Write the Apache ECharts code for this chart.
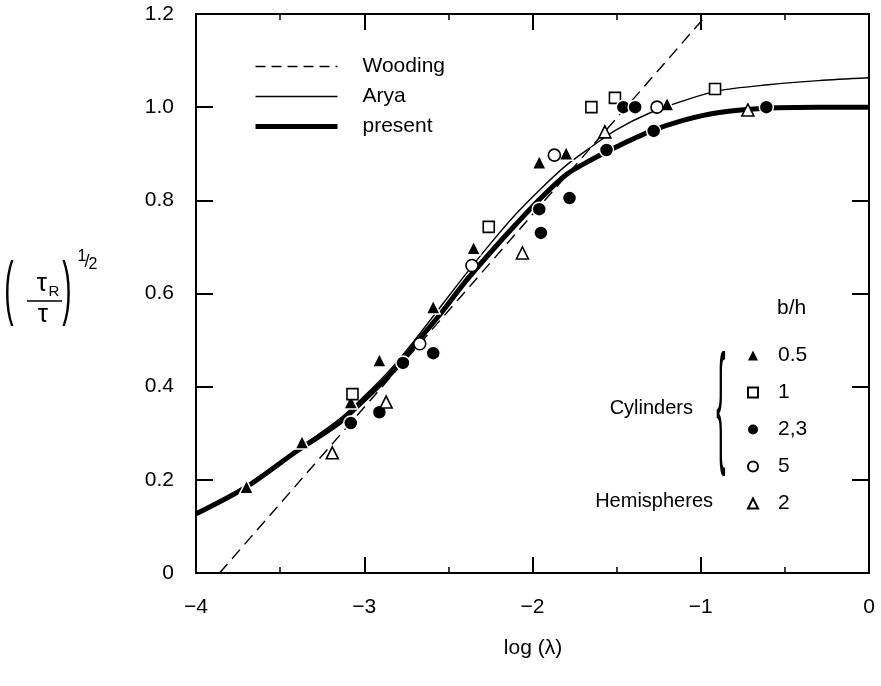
<!DOCTYPE html>
<html><head><meta charset="utf-8">
<script src="https://cdn.jsdelivr.net/npm/echarts@6/dist/echarts.min.js"></script>
<style>html,body{margin:0;padding:0;background:#fff}#c{width:881px;height:686px}</style>
</head><body><div id="c"></div>
<script>
// ---- data ----
const xTickLabels = ['\u22124', '\u22123', '\u22122', '\u22121', '0'];
const yTickLabels = ['0', '0.2', '0.4', '0.6', '0.8', '1.0', '1.2'];

const woodingX = [-3.86, -0.96];
const woodingY = [0, 1.2];

const aryaX = [-4, -3.7, -3.4, -3.15, -3.0, -2.85, -2.7, -2.55, -2.4, -2.25, -2.1, -1.95, -1.8, -1.65, -1.5, -1.3, -1.1, -0.9, -0.6, -0.3, 0];
const aryaY = [0.127, 0.185, 0.265, 0.33, 0.38, 0.435, 0.5, 0.57, 0.64, 0.707, 0.77, 0.825, 0.875, 0.915, 0.952, 0.988, 1.014, 1.035, 1.048, 1.057, 1.063];

const presentX = [-4, -3.7, -3.4, -3.15, -3.0, -2.85, -2.7, -2.55, -2.4, -2.25, -2.1, -1.95, -1.8, -1.65, -1.5, -1.3, -1.1, -0.9, -0.6, -0.3, 0];
const presentY = [0.127, 0.185, 0.262, 0.322, 0.372, 0.425, 0.49, 0.555, 0.625, 0.688, 0.748, 0.805, 0.855, 0.887, 0.915, 0.948, 0.972, 0.988, 0.998, 1.0, 1.0];

const tri05X = [-3.70, -3.37, -3.08, -2.91, -2.59, -2.35, -1.96, -1.80, -1.20];
const tri05Y = [0.185, 0.281, 0.367, 0.457, 0.571, 0.698, 0.882, 0.901, 1.007];

const sq1X = [-3.07, -2.26, -1.65, -1.51, -0.915];
const sq1Y = [0.384, 0.743, 1.0, 1.02, 1.039];

const dot23X = [-3.08, -2.91, -2.77, -2.59, -1.96, -1.95, -1.78, -1.56, -1.46, -1.39, -1.28, -0.61];
const dot23Y = [0.322, 0.345, 0.451, 0.472, 0.781, 0.730, 0.805, 0.908, 1.0, 1.0, 0.949, 1.0];

const circ5X = [-2.67, -2.36, -1.87, -1.26];
const circ5Y = [0.492, 0.660, 0.897, 1.0];

const hemiX = [-3.19, -2.87, -2.06, -1.57, -0.72];
const hemiY = [0.258, 0.367, 0.687, 0.947, 0.994];

// ---- chart ----
const pairs = (xs, ys) => xs.map((x, i) => [x, ys[i]]);
const FONT = "'Liberation Sans', Arial, Helvetica, sans-serif";
const BLACK = '#000';
const NONE = 'rgba(0,0,0,0)';

const chart = echarts.init(document.getElementById('c'), null, {renderer: 'canvas'});

function xAxisCfg(pos, labels) {
  return {
    type: 'value', position: pos, min: -4, max: 0, interval: 1,
    axisLine: {show: true, onZero: false, lineStyle: {color: BLACK, width: 2}},
    axisTick: {show: true, inside: true, length: 16, lineStyle: {color: BLACK, width: 2}},
    minorTick: {show: true, splitNumber: 2, length: 6, lineStyle: {color: BLACK, width: 1.5}},
    splitLine: {show: false}, minorSplitLine: {show: false},
    axisLabel: {show: labels, margin: 24, fontSize: 21, color: BLACK, fontFamily: FONT,
      formatter: v => xTickLabels[Math.round(v + 4)]}
  };
}
function yAxisCfg(pos, labels) {
  return {
    type: 'value', position: pos, min: 0, max: 1.2, interval: 0.2,
    axisLine: {show: true, onZero: false, lineStyle: {color: BLACK, width: 2}},
    axisTick: {show: true, inside: true, length: 17, lineStyle: {color: BLACK, width: 2}},
    splitLine: {show: false},
    axisLabel: {show: labels, margin: 22, fontSize: 21, color: BLACK, fontFamily: FONT,
      formatter: v => yTickLabels[Math.round(v / 0.2)]}
  };
}

const filled = (sym, size) => ({
  type: 'scatter', symbol: sym, symbolSize: size, z: 5,
  itemStyle: {color: BLACK, borderColor: '#fff', borderWidth: 1.5, opacity: 1}
});
const open = (sym, size) => ({
  type: 'scatter', symbol: sym, symbolSize: size, z: 5,
  itemStyle: {color: '#fff', borderColor: BLACK, borderWidth: 1.6, opacity: 1}
});
const hideSym = {color: NONE, borderColor: NONE, borderWidth: 0, opacity: 0};

const option = {
  animation: false,
  backgroundColor: '#fff',
  grid: {left: 196, right: 12, top: 14, bottom: 113, containLabel: false},
  xAxis: [xAxisCfg('bottom', true), xAxisCfg('top', false)],
  yAxis: [yAxisCfg('left', true), yAxisCfg('right', false)],
  legend: [
    {
      data: [
        {name: 'Wooding', itemStyle: hideSym, lineStyle: {color: BLACK, width: 1.4, type: [10, 6]}},
        {name: 'Arya', itemStyle: hideSym, lineStyle: {color: BLACK, width: 1.4}},
        {name: 'present', itemStyle: hideSym, lineStyle: {color: BLACK, width: 5}}
      ],
      orient: 'vertical', left: 248, top: 51,
      itemWidth: 82, itemHeight: 14, itemGap: 9, selectedMode: false,
      textStyle: {fontSize: 21, lineHeight: 21, color: BLACK, fontFamily: FONT, padding: [0, 0, 0, 20]}
    },
    {
      data: [
        {name: '0.5', itemStyle: {borderWidth: 0}},
        {name: '1'},
        {name: '2,3', itemStyle: {borderWidth: 0}},
        {name: '5'},
        {name: '2'}
      ],
      orient: 'vertical', left: 742, top: 340,
      itemWidth: 10, itemHeight: 10, itemGap: 16, selectedMode: false,
      textStyle: {fontSize: 21, lineHeight: 20, color: BLACK, fontFamily: FONT, padding: [0, 0, 0, 15]}
    }
  ],
  series: [
    {name: 'Wooding', type: 'line', data: pairs(woodingX, woodingY), symbol: 'none', z: 2,
      itemStyle: {color: NONE}, lineStyle: {color: BLACK, width: 1.4, type: [12, 7]}},
    {name: 'Arya', type: 'line', data: pairs(aryaX, aryaY), symbol: 'none', smooth: 0.3, z: 2,
      itemStyle: {color: NONE}, lineStyle: {color: BLACK, width: 1.4}},
    {name: 'present', type: 'line', data: pairs(presentX, presentY), symbol: 'none', smooth: 0.3, z: 3,
      itemStyle: {color: NONE}, lineStyle: {color: BLACK, width: 5}},
    Object.assign(filled('triangle', 14), {name: '0.5', data: pairs(tri05X, tri05Y)}),
    Object.assign(open('rect', 11), {name: '1', data: pairs(sq1X, sq1Y)}),
    Object.assign(filled('circle', 14), {name: '2,3', data: pairs(dot23X, dot23Y)}),
    Object.assign(open('circle', 12), {name: '5', data: pairs(circ5X, circ5Y)}),
    Object.assign(open('triangle', 12), {name: '2', data: pairs(hemiX, hemiY)})
  ],
  graphic: [
    {type: 'text', x: 777, y: 308, style: {text: 'b/h', font: '21px ' + FONT, fill: BLACK, align: 'left', verticalAlign: 'middle'}},
    {type: 'text', x: 693, y: 408, style: {text: 'Cylinders', font: '20px ' + FONT, fill: BLACK, align: 'right', verticalAlign: 'middle'}},
    {type: 'text', x: 713, y: 501, style: {text: 'Hemispheres', font: '20px ' + FONT, fill: BLACK, align: 'right', verticalAlign: 'middle'}},
    {type: 'text', x: 721, y: 411, scaleY: 4.8, originX: 0, originY: 0,
      style: {text: '{', font: '28px ' + FONT, fill: BLACK, align: 'center', verticalAlign: 'middle'}},
    {type: 'text', x: 533, y: 648, style: {text: 'log (\u03bb)', font: '21px ' + FONT, fill: BLACK, align: 'center', verticalAlign: 'middle'}},
    // y-axis title (tau_R / tau)^(1/2)
    {type: 'text', x: 9, y: 292, scaleY: 2.5, originX: 0, originY: 0,
      style: {text: '(', font: '28px ' + FONT, fill: BLACK, align: 'center', verticalAlign: 'middle'}},
    {type: 'text', x: 67, y: 292, scaleY: 2.5, originX: 0, originY: 0,
      style: {text: ')', font: '28px ' + FONT, fill: BLACK, align: 'center', verticalAlign: 'middle'}},
    {type: 'text', x: 42, y: 284, style: {text: '\u03c4', font: '26px ' + FONT, fill: BLACK, align: 'center', verticalAlign: 'middle'}},
    {type: 'text', x: 54, y: 292, style: {text: 'R', font: '15px ' + FONT, fill: BLACK, align: 'center', verticalAlign: 'middle'}},
    {type: 'line', shape: {x1: 27, y1: 301, x2: 62, y2: 301}, style: {stroke: BLACK, lineWidth: 1.5}},
    {type: 'text', x: 43, y: 315, style: {text: '\u03c4', font: '26px ' + FONT, fill: BLACK, align: 'center', verticalAlign: 'middle'}},
    {type: 'text', x: 82, y: 257, style: {text: '1', font: '16px ' + FONT, fill: BLACK, align: 'center', verticalAlign: 'middle'}},
    {type: 'text', x: 87, y: 262, style: {text: '/', font: '18px ' + FONT, fill: BLACK, align: 'center', verticalAlign: 'middle'}},
    {type: 'text', x: 93, y: 265, style: {text: '2', font: '16px ' + FONT, fill: BLACK, align: 'center', verticalAlign: 'middle'}}
  ]
};
chart.setOption(option);
</script>
</body></html>
